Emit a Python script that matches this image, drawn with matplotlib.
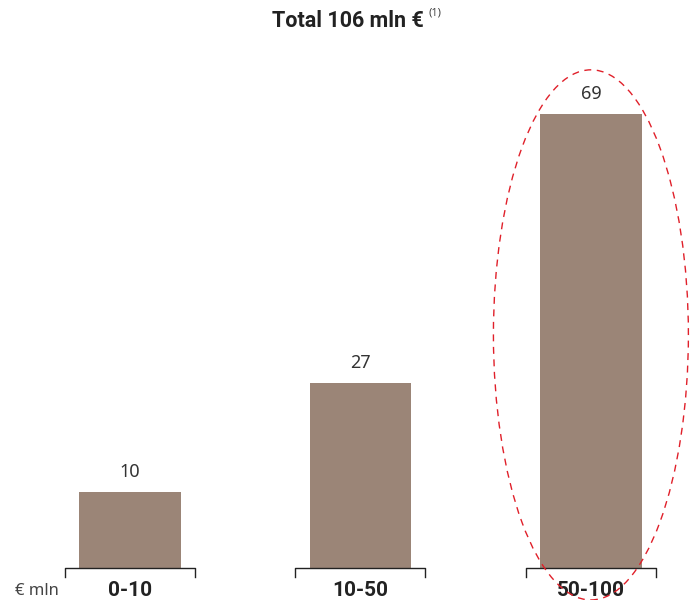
import matplotlib
matplotlib.use('Agg')
from matplotlib import pyplot as plt
from matplotlib.patches import Ellipse

# Data
categories = ['0-10', '10-50', '50-100']
values = [10, 27, 69]
title_text = 'Total 106 mln €'
unit_label = '€ mln'

bar_color = '#9b8577'
text_color = '#333333'
plt.rcParams['font.family'] = ['Noto Sans', 'DejaVu Sans']
bold_font = ['Roboto', 'DejaVu Sans']

fig = plt.figure(figsize=(6.96, 6.0), dpi=100)
ax = fig.add_axes([0.0, 0.0533, 1.0, 0.88])

ymin = -1.87
ax.set_xlim(-0.564, 2.456)
ax.set_ylim(ymin, 80.5)
for s in ax.spines.values():
    s.set_visible(False)
ax.set_xticks([])
ax.set_yticks([])

x = range(len(categories))
ax.bar(x, [v - ymin for v in values], bottom=ymin, width=0.44, color=bar_color, zorder=2)

for i, v in enumerate(values):
    ax.text(i, v + 1.7, str(v), ha='center', va='bottom', fontsize=13, color=text_color)
    # bracket under each bar
    hw = 0.282
    ax.plot([i - hw, i - hw, i + hw, i + hw], [ymin - 1.4, ymin, ymin, ymin - 1.4],
            color='#222222', linewidth=1.0, clip_on=False, zorder=3)
    ax.text(i, -5.4, categories[i], ha='center', va='center', fontsize=15,
            fontweight='bold', family=bold_font, color='#222222')

ax.text(-0.403, -5.4, unit_label, ha='center', va='center', fontsize=12, color='#444444')

# highlight ellipse around the largest bar
ell = Ellipse((2, 34.5), width=0.846, height=82.7, fill=False, edgecolor='#e0202a',
              linestyle=(0, (5, 4)), linewidth=1.0, clip_on=False, zorder=4)
ax.add_patch(ell)

t = fig.text(0.5, 0.965, title_text, ha='center', va='center', fontsize=15.5,
             fontweight='bold', family=bold_font, color='#222222')
fig.canvas.draw()
bb = t.get_window_extent()
fig.text((bb.x1 + 5) / fig.bbox.width, 0.978, '(1)', ha='left', va='center',
         fontsize=8, color='#444444')

plt.savefig('out.png', dpi=100)
